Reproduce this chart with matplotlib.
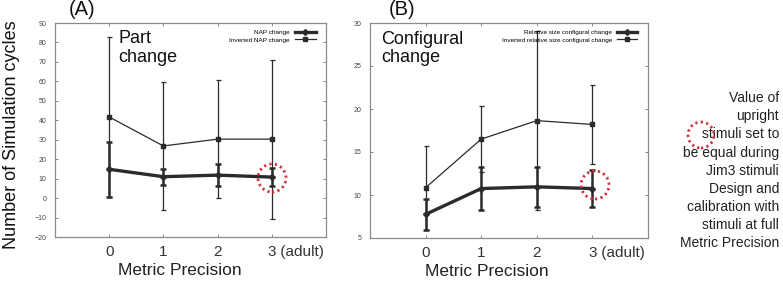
import matplotlib
matplotlib.use("Agg")
import matplotlib.pyplot as plt
from matplotlib.lines import Line2D
from matplotlib.patches import Ellipse

plt.rcParams['font.family'] = ['Liberation Sans', 'DejaVu Sans']

# Metric precision levels
precision = [0, 1, 2, 3]
xtick_labels = ['0', '1', '2', '3']

# (A) part change
nap = [14.8, 11.0, 11.8, 10.8]
nap_err = [14.0, 4.1, 5.6, 4.5]
inv_nap = [41.7, 26.8, 30.3, 30.3]
inv_nap_err = [41.0, 33.0, 30.4, 40.8]

# (B) configural change
conf = [7.75, 10.75, 10.95, 10.75]
conf_err = [1.8, 2.45, 2.3, 2.2]
inv_conf = [10.85, 16.5, 18.65, 18.2]
inv_conf_err = [4.9, 3.8, 10.4, 4.6]

W, H = 783, 286
fig = plt.figure(figsize=(W / 100, H / 100), dpi=100)


def px_axes(left, top, right, bottom):
    return fig.add_axes([left / W, 1 - bottom / H, (right - left) / W, (bottom - top) / H])


def red_circle(cx, cy, r):
    fig.add_artist(Ellipse((cx / W, 1 - cy / H), 2 * r / W, 2 * r / H,
                           transform=fig.transFigure, fill=False,
                           edgecolor='#d0303c', linewidth=2.0,
                           linestyle=(0, (0.8, 1.2)), zorder=10))


line_col = '#2b2b2b'


def panel(ax, thick, thick_err, thin, thin_err, ylim, yticks, label_thick, label_thin, inset, xlab_x):
    ax.errorbar(precision, thin, yerr=thin_err, color=line_col, linewidth=0.9,
                elinewidth=0.9, capsize=1.8, capthick=0.9, marker='s', markersize=2.5)
    ax.errorbar(precision, thick, yerr=thick_err, color=line_col, linewidth=2.4,
                elinewidth=1.8, capsize=2.2, capthick=1.8, marker='D', markersize=3)
    ax.set_xlim(-1, 4)
    ax.set_ylim(*ylim)
    ax.set_yticks(yticks)
    ax.set_xticks(precision)
    ax.set_xticklabels(xtick_labels)
    ax.tick_params(axis='y', labelsize=5, colors='#777777', labelcolor='#444444',
                   direction='in', length=2, width=0.6, right=True, pad=6)
    ax.tick_params(axis='x', labelsize=11, colors='#777777', labelcolor='#333333',
                   direction='in', length=2, width=0.6, top=True, pad=6)
    for s in ax.spines.values():
        s.set_color('#8a8a8a')
        s.set_linewidth(0.9)
    ax.annotate(' (adult)', xy=(3, 0), xycoords=('data', 'axes fraction'),
                xytext=(3.2, -6), textcoords='offset points', ha='left', va='top',
                fontsize=11, color='#333333')
    ax.set_xlabel('Metric Precision', fontsize=12.5, color='#222222', labelpad=8)
    ax.xaxis.set_label_coords(xlab_x, -0.12)
    ax.text(0.235, 0.965, inset, transform=ax.transAxes, fontsize=13,
            va='top', ha='left', linespacing=1.15, color='#111111')
    handles = [Line2D([], [], color=line_col, linewidth=2.4, marker='D', markersize=3),
               Line2D([], [], color=line_col, linewidth=0.9, marker='s', markersize=2.5)]
    ax.legend(handles, [label_thick, label_thin], loc='upper right', frameon=False,
              fontsize=4.6, markerfirst=False, handlelength=3.2, handletextpad=0.8,
              labelspacing=0.35, borderaxespad=0.6, bbox_to_anchor=(0.985, 1.0))


axA = px_axes(55, 23, 326, 237)
panel(axA, nap, nap_err, inv_nap, inv_nap_err, (-20, 90), range(-20, 91, 10),
      'NAP change', 'Inverted NAP change', 'Part\nchange', 0.46)
axA.text(0.1, 1.02, '(A)', transform=axA.transAxes, fontsize=14.5, ha='center',
         va='bottom', color='#111111')
axA.set_ylabel('Number of Simulation cycles', fontsize=13, color='#111111')
axA.yaxis.set_label_coords(-0.128, 0.48)

axB = px_axes(370, 23, 648, 238)
panel(axB, conf, conf_err, inv_conf, inv_conf_err, (5, 30), range(5, 31, 5),
      'Relative size configural change', 'Inverted relative size configural change',
      'Configural\nchange', 0.42)
axB.texts[-1].set_position((0.04, 0.965))
axB.text(0.115, 1.02, '(B)', transform=axB.transAxes, fontsize=14.5, ha='center',
         va='bottom', color='#111111')

fig.text(779 / W, 1 - 91 / H,
         'Value of\nupright\nstimuli set to\nbe equal during\nJim3 stimuli\nDesign and\n'
         'calibration with\nstimuli at full\nMetric Precision',
         ha='right', va='top', fontsize=10, linespacing=1.38, color='#222222')

red_circle(272, 178, 14)
red_circle(595, 185, 14)
red_circle(701, 135, 13)

fig.savefig('out.png', dpi=100)
